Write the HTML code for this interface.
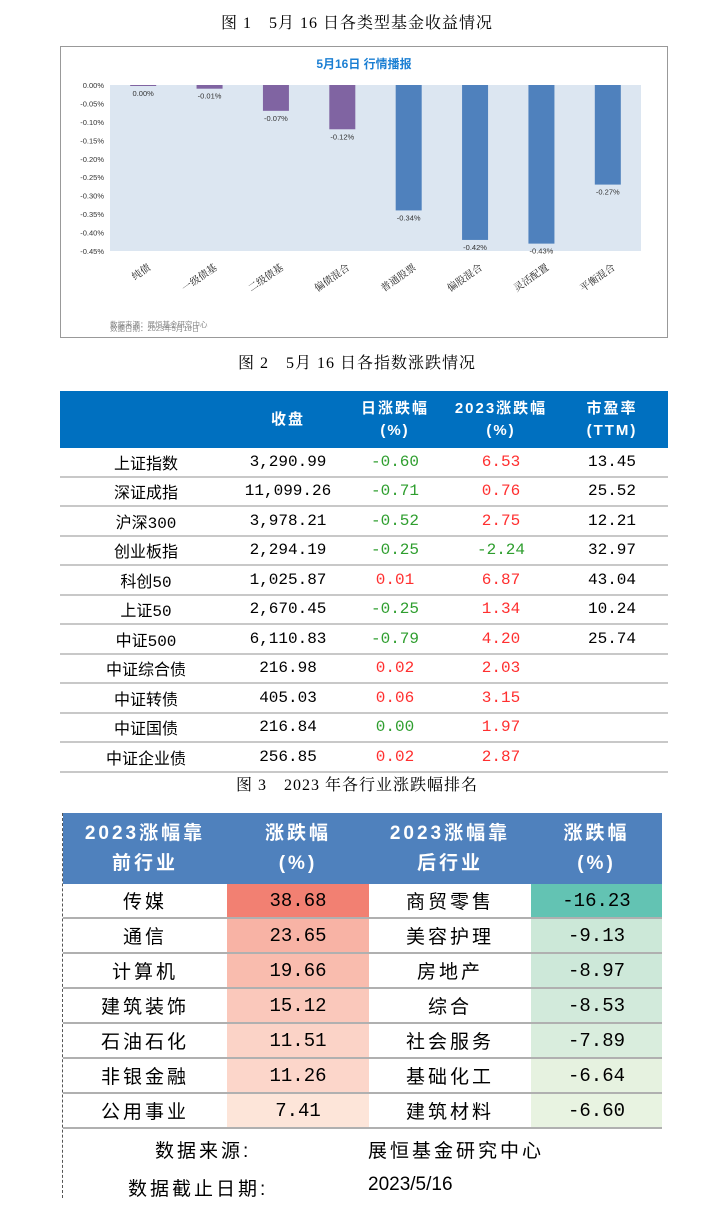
<!DOCTYPE html>
<html><head><meta charset="utf-8">
<style>
body{margin:0;width:714px;height:1212px;background:#fff;position:relative;overflow:hidden;font-family:"Liberation Sans","Noto Sans CJK SC",sans-serif;}
.cap{position:absolute;left:0;width:714px;text-align:center;font-family:"Liberation Serif","Noto Serif CJK SC",serif;font-size:16px;color:#000;letter-spacing:1px}
.abs{position:absolute}
table{border-collapse:collapse;position:absolute}
td{padding:0;text-align:center;white-space:nowrap}
#t2 td{height:27.5px;font-size:16px;border-bottom:2px solid #c8c8c8;font-family:"Liberation Mono","Noto Sans CJK SC",monospace}
#t2 th{background:#0070c0;color:#fff;font-size:15px;font-weight:bold;height:55px;line-height:22px;letter-spacing:2px}
.g{color:#2e9e2e}.r{color:#ff2f2f}
#t3 th{background:#4f81bd;color:#fff;font-size:19px;font-weight:bold;height:69px;line-height:30px;letter-spacing:3px}
#t3 td{height:33px;font-size:19px;border-bottom:2px solid #b0b0b0;letter-spacing:3px}
.num{font-family:"Liberation Mono","Noto Sans CJK SC",monospace;letter-spacing:0 !important}
</style></head><body>
<div class="cap" style="top:10px">图 1　5月 16 日各类型基金收益情况</div>
<svg class="abs" style="left:0;top:0" width="714" height="345" id="chart">
<rect x="60.5" y="46.5" width="607" height="291" fill="#fff" stroke="#999"/>
<text x="364" y="68" text-anchor="middle" font-size="12" font-weight="bold" fill="#1b7fd3">5月16日  行情播报</text>
<g id="plot"></g>
<text x="110" y="327" font-size="7.5" fill="#888">数据来源：展恒基金研究中心</text>
<text x="110" y=
"340" font-size="7.5" fill="#888" transform="translate(0,-9)">数据日期：2023年5月16日</text>
</svg>
<script>
const categories=["纯债","一级债基","二级债基","偏债混合","普通股票","偏股混合","灵活配置","平衡混合"];
const values=[0.00,-0.01,-0.07,-0.12,-0.34,-0.42,-0.43,-0.27];
const labels=["0.00%","-0.01%","-0.07%","-0.12%","-0.34%","-0.42%","-0.43%","-0.27%"];
const ticks=[0,-0.05,-0.10,-0.15,-0.20,-0.25,-0.30,-0.35,-0.40,-0.45];
const tickLabels=["0.00%","-0.05%","-0.10%","-0.15%","-0.20%","-0.25%","-0.30%","-0.35%","-0.40%","-0.45%"];
const colors=["#8064a2","#8064a2","#8064a2","#8064a2","#4f81bd","#4f81bd","#4f81bd","#4f81bd"];
const NS="http://www.w3.org/2000/svg";
const g=document.getElementById('plot');
const x0=110,x1=641,y0=85,y1=251;
const y=v=>y0+(v/-0.45)*(y1-y0);
const xc=i=>x0+(i+0.5)*(x1-x0)/categories.length;
function mk(t,a){const e=document.createElementNS(NS,t);for(const k in a)e.setAttribute(k,a[k]);g.appendChild(e);return e;}
const bg=mk('rect',{x:x0,y:y0,width:x1-x0,height:y1-y0,fill:'#dce6f1'});


ticks.forEach((t,i)=>{const e=mk('text',{x:x0-6,y:y(t)+3,'text-anchor':'end','font-size':'7.5',fill:'#333'});e.textContent=tickLabels[i];

});
values.forEach((v,i)=>{const top=y(0),h=Math.max(y(v)-top,1);
const b=mk('rect',{x:xc(i)-13,y:top,width:26,height:h,fill:colors[i]});


const l=mk('text',{x:xc(i),y:top+h+10,'text-anchor':'middle','font-size':'7.5',fill:'#333'});l.textContent=labels[i];


const c=mk('text',{x:xc(i)+8,y:y1+18,'text-anchor':'end','font-size':'10',fill:'#222',transform:`rotate(-35 ${xc(i)+8} ${y1+18})`,'font-family':'"Noto Serif CJK SC",serif'});c.textContent=categories[i];

});
</script>

<div class="cap" style="top:350px">图 2　5月 16 日各指数涨跌情况</div>
<table id="t2" style="left:60px;top:391px;width:608px">
<tr><th style="width:170px"></th><th style="width:110px">收盘</th><th style="width:100px">日涨跌幅<br>(%)</th><th style="width:108px">2023涨跌幅<br>(%)</th><th>市盈率<br>(TTM)</th></tr>
<tr><td>上证指数</td><td>3,290.99</td><td class="g">-0.60</td><td class="r">6.53</td><td>13.45</td></tr>
<tr><td>深证成指</td><td>11,099.26</td><td class="g">-0.71</td><td class="r">0.76</td><td>25.52</td></tr>
<tr><td>沪深300</td><td>3,978.21</td><td class="g">-0.52</td><td class="r">2.75</td><td>12.21</td></tr>
<tr><td>创业板指</td><td>2,294.19</td><td class="g">-0.25</td><td class="g">-2.24</td><td>32.97</td></tr>
<tr><td>科创50</td><td>1,025.87</td><td class="r">0.01</td><td class="r">6.87</td><td>43.04</td></tr>
<tr><td>上证50</td><td>2,670.45</td><td class="g">-0.25</td><td class="r">1.34</td><td>10.24</td></tr>
<tr><td>中证500</td><td>6,110.83</td><td class="g">-0.79</td><td class="r">4.20</td><td>25.74</td></tr>
<tr><td>中证综合债</td><td>216.98</td><td class="r">0.02</td><td class="r">2.03</td><td></td></tr>
<tr><td>中证转债</td><td>405.03</td><td class="r">0.06</td><td class="r">3.15</td><td></td></tr>
<tr><td>中证国债</td><td>216.84</td><td class="g">0.00</td><td class="r">1.97</td><td></td></tr>
<tr><td>中证企业债</td><td>256.85</td><td class="r">0.02</td><td class="r">2.87</td><td></td></tr>
</table>

<div class="cap" style="top:772px">图 3　2023 年各行业涨跌幅排名</div>
<div class="abs" style="left:62px;top:813px;height:385px;border-left:1px dashed #555"></div>
<table id="t3" style="left:63px;top:813px;width:599px">
<tr><th style="width:162px">2023涨幅靠<br>前行业</th><th style="width:140px">涨跌幅<br>(%)</th><th style="width:160px">2023涨幅靠<br>后行业</th><th>涨跌幅<br>(%)</th></tr>
<tr><td>传媒</td><td class="num" style="background:#f28072">38.68</td><td>商贸零售</td><td class="num" style="background:#63c3b3">-16.23</td></tr>
<tr><td>通信</td><td class="num" style="background:#f8b3a5">23.65</td><td>美容护理</td><td class="num" style="background:#cce8d8">-9.13</td></tr>
<tr><td>计算机</td><td class="num" style="background:#f9bcae">19.66</td><td>房地产</td><td class="num" style="background:#cde8d9">-8.97</td></tr>
<tr><td>建筑装饰</td><td class="num" style="background:#fac8bb">15.12</td><td>综合</td><td class="num" style="background:#d2eadb">-8.53</td></tr>
<tr><td>石油石化</td><td class="num" style="background:#fbd3c7">11.51</td><td>社会服务</td><td class="num" style="background:#d9eddd">-7.89</td></tr>
<tr><td>非银金融</td><td class="num" style="background:#fcd6ca">11.26</td><td>基础化工</td><td class="num" style="background:#e6f2e0">-6.64</td></tr>
<tr><td>公用事业</td><td class="num" style="background:#fde5d9">7.41</td><td>建筑材料</td><td class="num" style="background:#e8f3e1">-6.60</td></tr>
</table>
<div class="abs" style="left:155px;top:1136px;font-size:19px;letter-spacing:3px">数据来源:</div>
<div class="abs" style="left:368px;top:1136px;font-size:19px;letter-spacing:3px">展恒基金研究中心</div>
<div class="abs" style="left:128px;top:1174px;font-size:19px;letter-spacing:3px">数据截止日期:</div>
<div class="abs" style="left:368px;top:1174px;font-size:19px">2023/5/16</div>
</body></html>
